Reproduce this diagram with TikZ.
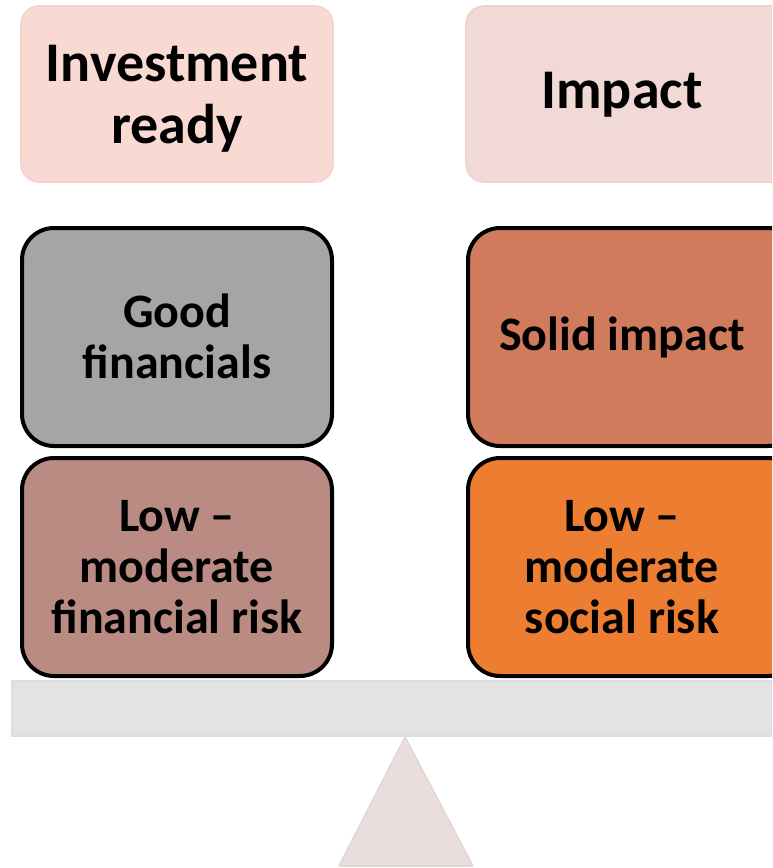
\documentclass[tikz,border=0pt]{standalone}
\usepackage{fontspec}
\setmainfont{Carlito}
\definecolor{headA}{HTML}{F8DAD3}
\definecolor{headAline}{HTML}{F3D3CB}
\definecolor{headB}{HTML}{F1D9D6}
\definecolor{headBline}{HTML}{EDD3D0}
\definecolor{greybox}{HTML}{A5A5A5}
\definecolor{mauvebox}{HTML}{BA8B82}
\definecolor{terrabox}{HTML}{D17B5D}
\definecolor{orangebox}{HTML}{ED7D31}
\definecolor{beamfill}{HTML}{E3E3E3}
\definecolor{beamline}{HTML}{DDDDDD}
\definecolor{pivotfill}{HTML}{EADDDD}
\definecolor{pivotline}{HTML}{E5D6D6}
\tikzset{
  txt/.style={font=\fontsize{36}{38}\bfseries, align=center, text=black},
  headtxt/.style={font=\fontsize{42}{46.5}\bfseries, align=center, text=black},
  head/.style={rounded corners=13.5pt, line width=1.2pt},
  blockbox/.style={rounded corners=24pt, draw=black, line width=3pt},
}
\begin{document}
\begin{tikzpicture}[x=0.75pt,y=-0.75pt]
\useasboundingbox (0,0) rectangle (772,868);
\clip (0,0) rectangle (772,868);
% header panels
\filldraw[head, fill=headA, draw=headAline] (21,6) rectangle (333,182);
\node[headtxt] (invready) at (177,99) {Investment\\ready};
\filldraw[head, fill=headB, draw=headBline] (466,6) rectangle (800,182);
\node[headtxt] (impact) at (622,95) {Impact};
% left stack
\filldraw[blockbox, fill=greybox] (22,228) rectangle (332,446);
\node[txt] (goodfin) at (177,336) {Good\\financials};
\filldraw[blockbox, fill=mauvebox] (22,458) rectangle (332,676);
\node[txt] (finrisk) at (177,567) {Low --\\moderate\\financial risk};
% right stack
\filldraw[blockbox, fill=terrabox] (468,228) rectangle (800,446);
\node[txt] (solid) at (622,337) {Solid impact};
\filldraw[blockbox, fill=orangebox] (468,458) rectangle (800,676);
\node[txt] (socrisk) at (622,567) {Low --\\moderate\\social risk};
% balance beam and pivot
\filldraw[fill=beamfill, draw=beamline, line width=1.5pt] (12,681) rectangle (800,736);
\filldraw[fill=pivotfill, draw=pivotline, line width=1.2pt, line join=round]
  (405,737) -- (473,866) -- (339,866) -- cycle;
\end{tikzpicture}
\end{document}
